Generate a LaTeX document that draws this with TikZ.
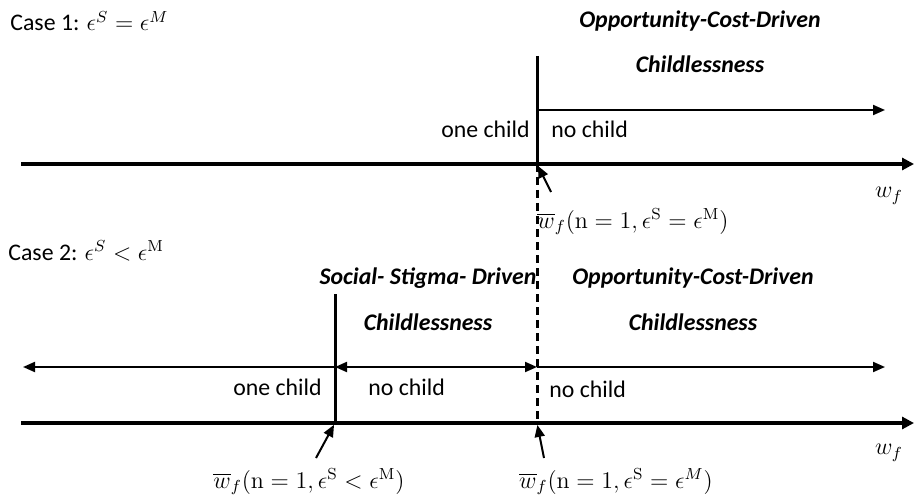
\documentclass[tikz,border=0pt]{standalone}
\usepackage{amsmath}
\usepackage[no-math]{fontspec}
\setmainfont{Carlito}
\usetikzlibrary{arrows.meta,positioning}

\begin{document}
\begin{tikzpicture}[x=0.5pt, y=-0.5pt,
    txt/.style={font=\fontsize{11.9}{14}\selectfont, inner sep=0pt},
    head/.style={font=\fontsize{11.9}{14}\selectfont\bfseries\itshape, inner sep=0pt},
    axis/.style={line width=1.6pt, -{Triangle[length=6pt,width=6pt]}},
    bound/.style={line width=1.5pt},
    regime/.style={line width=1pt, -{Triangle[length=6pt,width=5pt]}},
    ptr/.style={line width=1pt, -{Triangle[length=6pt,width=5pt]}, shorten >=1pt}
]
\useasboundingbox (0,0) rectangle (914,502);

% CASE 1
\node[txt, anchor=base west] (case1) at (10,31) {Case 1: $\epsilon^{S}=\epsilon^{M}$};
\coordinate (a1l) at (21,164);
\coordinate (a1r) at (914,164);
\coordinate (t1) at (537,56);
\coordinate (o1) at (537,164);
\coordinate (r1s) at (537,110);
\coordinate (r1e) at (885,110);
\coordinate (p1) at (551,192);

\draw[axis] (a1l) -- (a1r);
\draw[bound] (t1) -- (o1);
\draw[regime] (r1s) -- (r1e);
\draw[ptr] (p1) -- (o1);

\node[head, anchor=base] (opp1) at (700,28) {Opportunity-Cost-Driven};
\node[head, anchor=base] (chl1) at (700,73) {Childlessness};
\node[txt, anchor=base east] (one1) at (530,138) {one child};
\node[txt, anchor=base west] (no1) at (551,138) {no child};
\node[txt] (wf1) at (889,196) {$w_f$};
\node[txt, anchor=base] (thr1) at (633,228) {$\overline{w}_f(\mathrm{n}=1,\epsilon^{\mathrm{S}}=\epsilon^{\mathrm{M}})$};

% CASE 2
\node[txt, anchor=base west] (case2) at (8,260) {Case 2: $\epsilon^{S}<\epsilon^{\mathrm{M}}$};
\coordinate (a2l) at (21,423);
\coordinate (a2r) at (914,423);
\coordinate (t2) at (335,294);
\coordinate (s2) at (335,423);
\coordinate (o2) at (537,423);
\coordinate (l2e) at (23,367);
\coordinate (m2a) at (335,367);
\coordinate (m2b) at (537,367);
\coordinate (r2e) at (885,367);
\coordinate (p2) at (316,458);
\coordinate (p3) at (544,458);

\draw[axis] (a2l) -- (a2r);
\draw[bound] (t2) -- (s2);
\draw[regime] (m2a) -- (l2e);
\draw[regime, {Triangle[length=6pt,width=5pt]}-{Triangle[length=6pt,width=5pt]}] (m2a) -- (m2b);
\draw[regime] (m2b) -- (r2e);
\draw[ptr] (p2) -- (s2);
\draw[ptr] (p3) -- (o2);

\node[head, anchor=base] (soc2) at (428,284) {Social- Stigma- Driven};
\node[head, anchor=base] (chl2) at (428,330) {Childlessness};
\node[head, anchor=base] (opp2) at (693,284) {Opportunity-Cost-Driven};
\node[head, anchor=base] (chl3) at (693,330) {Childlessness};
\node[txt, anchor=base east] (one2) at (322,395) {one child};
\node[txt, anchor=base west] (no2) at (368,395) {no child};
\node[txt, anchor=base west] (no3) at (549,397) {no child};
\node[txt] (wf2) at (889,453) {$w_f$};
\node[txt, anchor=base] (thr2) at (309,488) {$\overline{w}_f(\mathrm{n}=1,\epsilon^{\mathrm{S}}<\epsilon^{\mathrm{M}})$};
\node[txt, anchor=base] (thr3) at (616,488) {$\overline{w}_f(\mathrm{n}=1,\epsilon^{\mathrm{S}}=\epsilon^{M})$};

% threshold carried down
\draw[bound, dash pattern=on 4pt off 2.5pt] (o1) -- (o2);

\end{tikzpicture}
\end{document}
